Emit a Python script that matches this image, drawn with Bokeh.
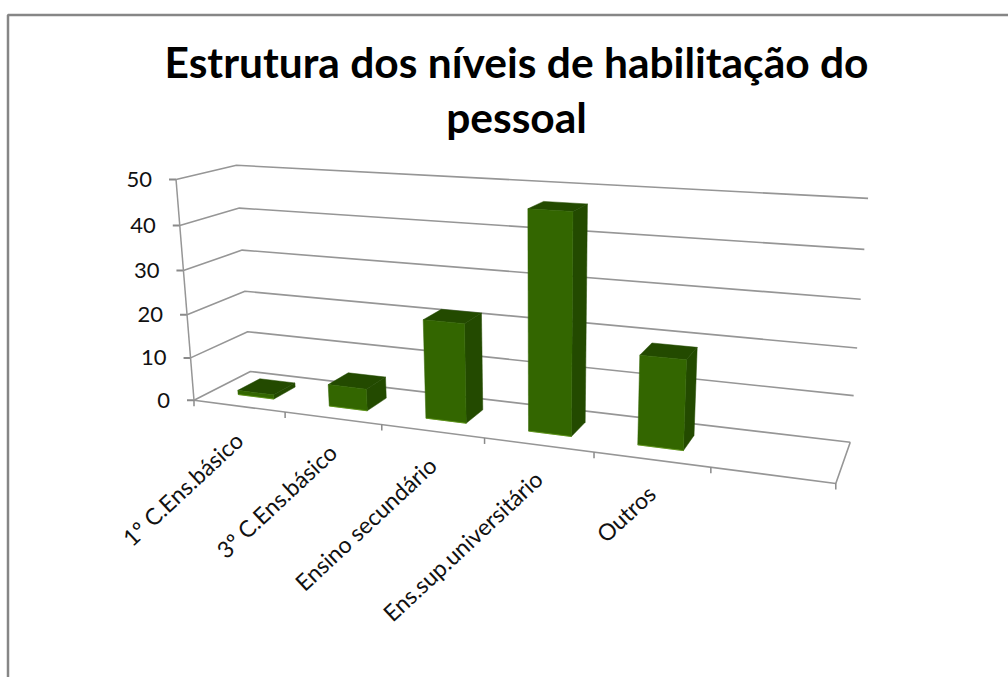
import numpy as np
from bokeh.plotting import figure
from bokeh.models import Range1d
from bokeh.core.properties import value
from bokeh.embed import file_html
from bokeh.resources import INLINE

title_lines = ["Estrutura dos níveis de habilitação do", "pessoal"]
categories = ["1º C.Ens.básico", "3º C.Ens.básico", "Ensino secundário", "Ens.sup.universitário", "Outros", ""]
values = [1, 5, 22, 47, 19]
y_ticks = [0, 10, 20, 30, 40, 50]

# ---- camera calibration: (u, depth, level) -> picture position of the chart box
calib = []
front_left = [(193, 400), (190, 358), (187, 314), (183, 269), (179, 225), (176, 180)]
back_left = [(250, 371), (248, 332), (244, 291), (242, 249), (239, 207), (235, 165)]
back_right = [(850, 442), (853, 395), (856, 347), (860, 299), (864, 249), (868, 198)]
for lv, a, b, c in zip(y_ticks, front_left, back_left, back_right):
    calib += [((0, 0, lv), a), ((0, 1, lv), b), ((6, 1, lv), c)]
for u, px in zip(range(1, 7), [(284, 411), (382, 424), (483, 437), (594, 452), (711, 467), (835, 483)]):
    calib.append(((u, 0, 0), px))

A, B = [], []
for (u, d, v), (px, py) in calib:
    A.append([u, d, v, 1, 0, 0, 0, 0, -px * u, -px * d, -px * v])
    B.append(px)
    A.append([0, 0, 0, 0, u, d, v, 1, -py * u, -py * d, -py * v])
    B.append(py)
M = np.linalg.lstsq(np.array(A, float), np.array(B, float), rcond=None)[0]


def proj(u, d, v):
    w = M[8] * u + M[9] * d + M[10] * v + 1
    return (M[0] * u + M[1] * d + M[2] * v + M[3]) / w, (M[4] * u + M[5] * d + M[6] * v + M[7]) / w


p = figure(width=1008, height=677, output_backend="svg", toolbar_location=None,
           x_range=Range1d(0, 1008), y_range=Range1d(677, 0), min_border=0)
p.axis.visible = False
p.grid.visible = False
p.outline_line_color = None
p.background_fill_color = "white"

GRID = "#969696"
FRAME = "#868686"
# chart frame
p.line([7.5, 7.5, 1008], [677, 14.5, 14.5], line_color=FRAME, line_width=2.5)


def seg(a, b, color=GRID, width=1.5):
    p.line([a[0], b[0]], [a[1], b[1]], line_color=color, line_width=width)


# walls + gridlines
for lv in y_ticks:
    a, b, c = proj(0, 0, lv), proj(0, 1, lv), proj(6, 1, lv)
    p.line([a[0], b[0], c[0]], [a[1], b[1], c[1]], line_color=GRID, line_width=1.6)
    seg((a[0] - 7, a[1]), a, "#8a8a8a", 2)
    p.text([a[0] - 24], [a[1]], text=[str(lv)], text_font=value("Lato"), text_font_size="22px",
           text_align="right", text_baseline="middle", text_color="#111111")
seg(proj(0, 0, 0), proj(0, 0, 50))
# floor
f0, f1, f2 = proj(0, 0, 0), proj(6, 0, 0), proj(6, 1, 0)
p.line([f0[0], f1[0], f2[0]], [f0[1], f1[1], f2[1]], line_color=GRID, line_width=1.6)
for u in range(0, 7):
    t = proj(u, 0, 0)
    seg(t, (t[0], t[1] + 6), "#8a8a8a", 1.5)

# category labels
for i, c in enumerate(categories):
    if not c:
        continue
    x, y = proj(i + 0.5, 0, 0)
    p.text([x], [y + 30], text=[c], angle=[np.radians(43)], text_font=value("Lato"), text_font_size="23px",
           text_align="right", text_baseline="middle", text_color="#111111")

# bars
FRONT = "#336600"
DARK = "#234a00"
u_off, d0, d1 = (0.3, 0.7), 0.3, 0.7
for i, v in enumerate(values):
    ua, ub = i + u_off[0], i + u_off[1]
    fl0, fr0 = proj(ua, d0, 0), proj(ub, d0, 0)
    fl1, fr1 = proj(ua, d0, v), proj(ub, d0, v)
    br0, br1, bl1 = proj(ub, d1, 0), proj(ub, d1, v), proj(ua, d1, v)
    faces = [([fr0, br0, br1, fr1], DARK), ([fl1, fr1, br1, bl1], DARK), ([fl0, fr0, fr1, fl1], FRONT)]
    for pts, col in faces:
        p.patch([q[0] for q in pts], [q[1] for q in pts], fill_color=col, line_color=col, line_width=0.5)
    p.line([fl0[0], fr0[0]], [fl0[1], fr0[1]], line_color="#5c9412", line_width=0.8)

# title
for line, y in zip(title_lines, [61, 116]):
    p.text([516], [y], text=[line], text_font=value("Lato"), text_font_style="bold", text_font_size="42.5px",
           text_align="center", text_baseline="middle", text_color="#000000")

open("out.html", "w").write(file_html(p, INLINE))
